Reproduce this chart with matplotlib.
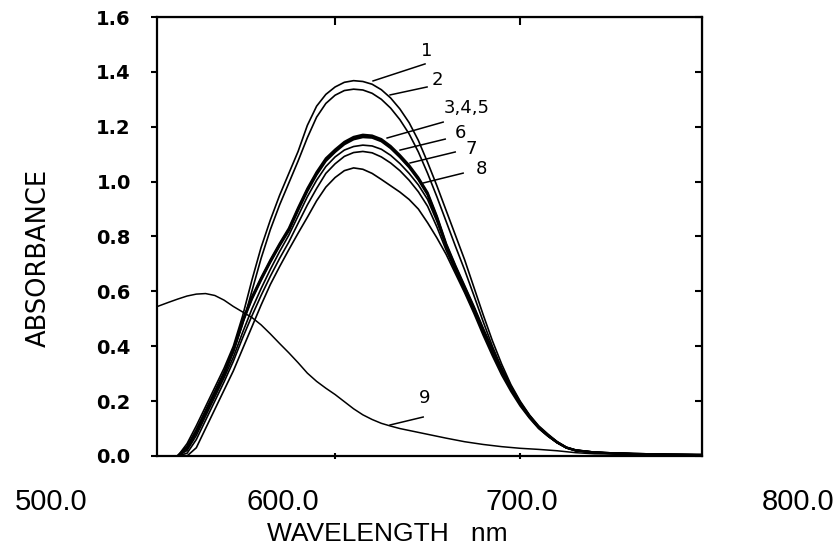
## Absorption spectra plot (curves 1-9), rebuilt from a scanned figure.

import matplotlib
matplotlib.use("Agg")
import matplotlib.pyplot as plt

## wavelength grid (nm) shared by curves 1-8
wl = [515, 520, 525, 530, 535, 540, 545, 550, 555, 560, 565, 570, 575, 580,
      585, 590, 595, 600, 605, 610, 615, 620, 625, 630, 635, 640, 645, 650,
      655, 660, 665, 670, 675, 680, 685, 690, 695, 700, 705, 710, 715, 720,
      725, 730, 740, 750, 760, 780, 798]

curve_1 = [0.0, 0.045, 0.110, 0.180, 0.250, 0.320, 0.400, 0.510, 0.640, 0.760,
           0.860, 0.950, 1.030, 1.110, 1.205, 1.275, 1.318, 1.345, 1.362, 1.368,
           1.365, 1.355, 1.335, 1.305, 1.265, 1.215, 1.150, 1.070, 0.985, 0.895,
           0.805, 0.715, 0.615, 0.515, 0.420, 0.335, 0.260, 0.200, 0.150, 0.110,
           0.080, 0.052, 0.032, 0.022, 0.014, 0.010, 0.008, 0.005, 0.004]
curve_2 = [0.0, 0.035, 0.095, 0.165, 0.235, 0.305, 0.380, 0.480, 0.600, 0.720,
           0.825, 0.915, 0.995, 1.075, 1.160, 1.235, 1.285, 1.315, 1.332, 1.337,
           1.334, 1.322, 1.300, 1.268, 1.226, 1.174, 1.108, 1.030, 0.945, 0.855,
           0.765, 0.678, 0.585, 0.490, 0.400, 0.320, 0.250, 0.193, 0.145, 0.106,
           0.077, 0.050, 0.031, 0.021, 0.013, 0.010, 0.008, 0.005, 0.004]
curve_3 = [0.0, 0.030, 0.090, 0.160, 0.230, 0.300, 0.385, 0.490, 0.575, 0.645,
           0.710, 0.770, 0.825, 0.900, 0.970, 1.030, 1.080, 1.112, 1.140, 1.158,
           1.166, 1.163, 1.150, 1.125, 1.092, 1.055, 1.010, 0.955, 0.870, 0.770,
           0.690, 0.615, 0.540, 0.460, 0.385, 0.315, 0.250, 0.193, 0.145, 0.105,
           0.075, 0.050, 0.030, 0.020, 0.013, 0.010, 0.008, 0.005, 0.004]
curve_4 = [0.0, 0.028, 0.087, 0.157, 0.227, 0.297, 0.381, 0.486, 0.571, 0.641,
           0.706, 0.766, 0.821, 0.895, 0.965, 1.025, 1.075, 1.108, 1.136, 1.154,
           1.162, 1.160, 1.147, 1.122, 1.089, 1.052, 1.007, 0.952, 0.866, 0.767,
           0.687, 0.612, 0.537, 0.457, 0.382, 0.312, 0.248, 0.191, 0.144, 0.104,
           0.074, 0.049, 0.030, 0.020, 0.013, 0.010, 0.008, 0.005, 0.004]
curve_5 = [0.0, 0.032, 0.093, 0.163, 0.233, 0.303, 0.389, 0.494, 0.579, 0.649,
           0.714, 0.774, 0.830, 0.905, 0.975, 1.035, 1.085, 1.117, 1.145, 1.163,
           1.171, 1.168, 1.155, 1.130, 1.097, 1.060, 1.015, 0.960, 0.874, 0.774,
           0.694, 0.619, 0.544, 0.464, 0.389, 0.318, 0.253, 0.195, 0.147, 0.106,
           0.076, 0.051, 0.031, 0.021, 0.013, 0.010, 0.008, 0.005, 0.004]
curve_6 = [0.0, 0.020, 0.075, 0.145, 0.215, 0.285, 0.360, 0.450, 0.535, 0.610,
           0.680, 0.745, 0.805, 0.875, 0.945, 1.005, 1.055, 1.090, 1.115, 1.128,
           1.133, 1.130, 1.118, 1.096, 1.066, 1.030, 0.988, 0.935, 0.855, 0.762,
           0.683, 0.608, 0.533, 0.455, 0.380, 0.310, 0.246, 0.190, 0.143, 0.104,
           0.074, 0.049, 0.030, 0.020, 0.013, 0.010, 0.008, 0.005, 0.004]
curve_7 = [0.0, 0.010, 0.060, 0.130, 0.200, 0.270, 0.345, 0.430, 0.510, 0.585,
           0.655, 0.720, 0.780, 0.848, 0.915, 0.975, 1.030, 1.065, 1.092, 1.106,
           1.110, 1.105, 1.090, 1.068, 1.040, 1.005, 0.963, 0.910, 0.835, 0.750,
           0.674, 0.601, 0.527, 0.449, 0.374, 0.304, 0.242, 0.187, 0.141, 0.102,
           0.073, 0.048, 0.030, 0.020, 0.013, 0.010, 0.008, 0.005, 0.004]
curve_8 = [0.0, 0.0, 0.030, 0.100, 0.170, 0.240, 0.310, 0.390, 0.470, 0.550,
           0.625, 0.690, 0.752, 0.812, 0.870, 0.930, 0.980, 1.015, 1.040, 1.050,
           1.045, 1.030, 1.008, 0.985, 0.962, 0.935, 0.900, 0.850, 0.795, 0.735,
           0.665, 0.595, 0.520, 0.440, 0.365, 0.295, 0.235, 0.182, 0.138, 0.100,
           0.072, 0.048, 0.030, 0.020, 0.013, 0.010, 0.008, 0.005, 0.004]

## curve 9 has its own grid, it starts at the left edge
wl_9 = [504, 510, 515, 520, 525, 530, 535, 540, 545, 550, 555, 560, 565, 570,
        575, 580, 585, 590, 595, 600, 605, 610, 615, 620, 625, 630, 635, 640,
        645, 650, 660, 670, 680, 690, 700, 710, 720, 730, 740, 760, 780, 798]
curve_9 = [0.545, 0.560, 0.572, 0.583, 0.590, 0.592, 0.585, 0.568, 0.545, 0.525,
           0.505, 0.478, 0.445, 0.410, 0.376, 0.340, 0.302, 0.272, 0.247, 0.224,
           0.198, 0.172, 0.150, 0.133, 0.119, 0.109, 0.100, 0.093, 0.086, 0.079,
           0.065, 0.052, 0.042, 0.034, 0.028, 0.024, 0.019, 0.012, 0.008, 0.006,
           0.005, 0.004]

## curve labels: text, leader start (on curve), leader end, label position
labels = ["1", "2", "3,4,5", "6", "7", "8", "9"]
lead_from = [(620.5, 1.367), (629.7, 1.316), (628.1, 1.159), (635.1, 1.115),
             (640.5, 1.068), (647.6, 0.995), (629.7, 0.113)]
lead_to = [(648.6, 1.429), (649.7, 1.345), (658.4, 1.217), (659.5, 1.155),
           (664.9, 1.108), (669.2, 1.031), (647.6, 0.142)]
label_pos = [(646.5, 1.475), (652.0, 1.372), (658.5, 1.268), (664.5, 1.178),
             (670.5, 1.118), (676.0, 1.045), (645.5, 0.212)]

yticks = [0.0, 0.2, 0.4, 0.6, 0.8, 1.0, 1.2, 1.4, 1.6]
xlabels = ["500.0", "600.0", "700.0", "800.0"]

fig = plt.figure(figsize=(8.4, 5.47), dpi=100)
ax = fig.add_axes([0.187, 0.1664, 0.649, 0.8025])

for c in [curve_1, curve_2, curve_6, curve_7, curve_8]:
    ax.plot(wl, c, color="black", lw=1.2)
for c in [curve_3, curve_4, curve_5]:
    ax.plot(wl, c, color="black", lw=1.6)
ax.plot(wl_9, curve_9, color="black", lw=1.1)

for txt, p0, p1, pl in zip(labels, lead_from, lead_to, label_pos):
    ax.plot([p0[0], p1[0]], [p0[1], p1[1]], color="black", lw=1.1)
    ax.text(pl[0], pl[1], txt, fontsize=13, ha="left", va="center")

ax.set_xlim(503.8, 798.4)
ax.set_ylim(0, 1.6)
for s in ax.spines.values():
    s.set_linewidth(1.6)

ax.set_xticks([600, 700])
ax.set_xticklabels([])
ax.tick_params(axis="x", direction="inout", length=5, width=1.5)
ax.set_yticks(yticks)
ax.set_yticklabels(["%.1f" % v for v in yticks], fontsize=14, fontweight="bold")
ax.tick_params(axis="y", direction="out", length=4, width=1.5, pad=15)

top = ax.secondary_xaxis("top")
top.set_xticks([600, 700])
top.set_xticklabels([])
top.tick_params(direction="in", length=6, width=1.5)
right = ax.secondary_yaxis("right")
right.set_yticks(yticks)
right.set_yticklabels([])
right.tick_params(direction="in", length=5, width=1.5)

## axis titles and x tick labels sit outside the box, as in the scan
fig.text(0.046, 0.528, "ABSORBANCE", rotation=90, fontsize=18.5,
         ha="center", va="center")
xlab_px = [51, 283, 522, 798]
for t, px in zip(xlabels, xlab_px):
    fig.text(px / 840, 1 - 510 / 547, t, fontsize=21, ha="center",
             va="baseline", family="Liberation Sans")
fig.text(387 / 840, 1 - 541 / 547, "WAVELENGTH   nm", fontsize=19,
         ha="center", va="baseline", family="Liberation Sans")

plt.savefig("out.png", dpi=100)
